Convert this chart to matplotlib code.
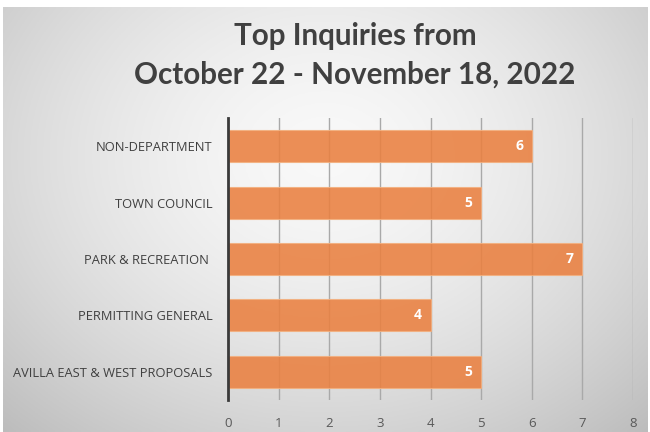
import numpy as np
import matplotlib
matplotlib.use("Agg")
import matplotlib.pyplot as plt

categories = ["NON-DEPARTMENT", "TOWN COUNCIL", "PARK & RECREATION ", "PERMITTING GENERAL", "AVILLA EAST & WEST PROPOSALS"]
values = [6, 5, 7, 4, 5]
xticks = [0, 1, 2, 3, 4, 5, 6, 7, 8]
title = "Top Inquiries from\nOctober 22 - November 18, 2022"

W, H = 650, 432
fig = plt.figure(figsize=(W / 100, H / 100), dpi=100)
fig.patch.set_facecolor("white")

# gradient background panel
bg = fig.add_axes([3 / W, 0, 1 - 5 / W, (H - 7) / H], zorder=0)
ny, nx = 200, 300
yy, xx = np.mgrid[0:1:ny * 1j, 0:1:nx * 1j]
r = np.sqrt(((xx - 0.5) / 0.7) ** 2 + ((yy - 0.35) / 0.85) ** 2)
val = 0.975 - 0.22 * np.clip(r, 0, 1.2) ** 1.6
img = np.dstack([val, val, val])
bg.imshow(img, aspect="auto", extent=[0, 1, 0, 1], origin="upper")
bg.axis("off")

ax = fig.add_axes([228 / W, (H - 400) / H, (633 - 228) / W, (400 - 118) / H], zorder=1)
ax.patch.set_alpha(0)

ypos = np.arange(len(categories))
ax.set_ylim(len(categories) - 0.5, -0.5)
ax.set_xlim(0, 8)
ax.set_xticks(xticks)
ax.grid(axis="x", color="#a9a9a9", linewidth=1.0, zorder=0)
ax.set_axisbelow(True)

bars = ax.barh(ypos, values, height=0.57, color="#EA8040", alpha=0.88,
               edgecolor="#f3b07f", linewidth=0.8, zorder=2)
for y, v in zip(ypos, values):
    ax.text(v - 0.25, y, str(v), ha="center", va="center", color="white",
            fontsize=10, fontweight="bold", family="Open Sans", zorder=3)

ax.set_yticks(ypos)
ax.set_yticklabels(categories, fontsize=9.3, color="#404040", family="Open Sans")
ax.tick_params(axis="y", length=0, pad=11)
ax.tick_params(axis="x", length=0, pad=12, labelsize=9.5, labelcolor="#595959")
for lab in ax.get_xticklabels():
    lab.set_family("Open Sans")
for s in ["top", "right", "bottom"]:
    ax.spines[s].set_visible(False)
ax.spines["left"].set_color("#3a3a3a")
ax.spines["left"].set_linewidth(2)
ax.spines["left"].set_zorder(4)

fig.text(0.546, 1 - 55 / H, title, ha="center", va="center", fontsize=21.3,
         fontweight="bold", color="#404040", family="Lato", linespacing=1.45)

fig.savefig("out.png", dpi=100)
